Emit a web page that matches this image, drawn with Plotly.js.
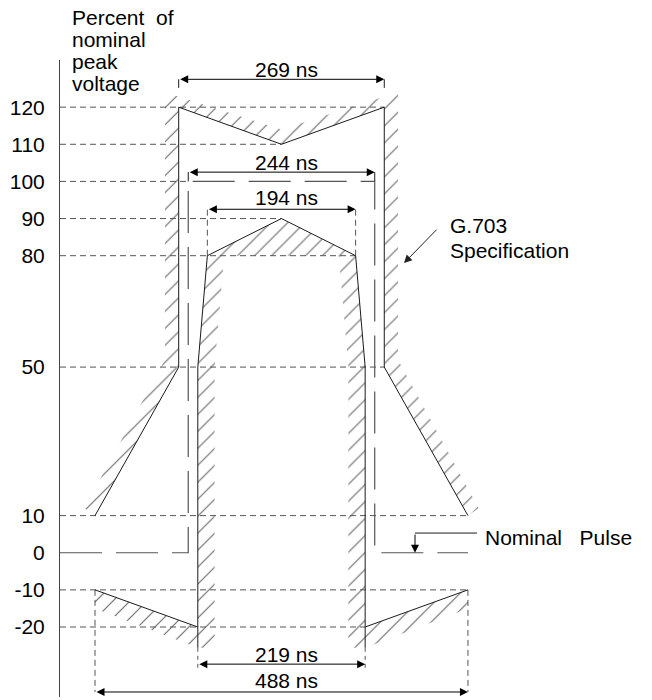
<!DOCTYPE html>
<html>
<head>
<meta charset="utf-8">
<script src="https://cdn.plot.ly/plotly-3.0.1.min.js"></script>
<style>html,body{margin:0;padding:0;background:#fff;}#chart{width:652px;height:700px;}</style>
</head>
<body>
<div id="chart"></div>
<script>
// ---- data (time in ns, amplitude in % of nominal peak) ----
const yTickVals = [120, 110, 100, 90, 80, 50, 10, 0, -10, -20];
const yTickText = ['120', '110', '100', '90', '80', '50', '10', '0', '-10', '-20'];

// G.703 upper (outer) mask
const upperMaskX = [-244, -134.5, -134.5, 0, 134.5, 134.5, 244];
const upperMaskY = [10, 50, 120, 110, 120, 50, 10];
// G.703 lower (inner) mask
const lowerMaskX = [-109.5, -109.5, -97, 0, 97, 109.5, 109.5];
const lowerMaskY = [-25.6, 50, 80, 90, 80, 50, -25.6];
// undershoot limits
const underLeftX = [-244, -109.5];
const underLeftY = [-10, -20];
const underRightX = [109.5, 244];
const underRightY = [-20, -10];
// nominal pulse
const pulseX = [-289.8, -122, -122, 122, 122, 244];
const pulseY = [0, 0, 100, 100, 0, 0];

// reference levels (dashed) : level and right end (ns)
const refLevels = [120, 110, 100, 90, 80, 50, 10, -10, -20];
const refEnds   = [134.5, 0, -122, 0, 97, 134.5, 244, 244, 109.5];

// dimensions
const dimWidths = [269, 244, 194, 219, 488];
const dimLabels = ['269 ns', '244 ns', '194 ns', '219 ns', '488 ns'];
const dimArrowY = [127.5, 102.5, 92.5, -30, -37.5];
const dimLabelY = [130.2, 105.2, 95.6, -27.4, -34.4];

// hatch bands
const upperHatchX = [-244, -134.5, -134.5, 0, 134.5, 134.5, 244, 258, 152.5, 152.5, 0, -152.5, -152.5, -258];
const upperHatchY = [10, 50, 120, 110, 120, 50, 10, 12, 52, 124, 114, 124, 52, 12];
const lowerHatchX = [-109.5, -109.5, -97, 0, 97, 109.5, 109.5, 87.5, 87.5, 75, -75, -87.5, -87.5];
const lowerHatchY = [-25.6, 50, 80, 90, 80, 50, -25.6, -25.6, 50, 80, 80, 50, -25.6];
const underLeftHatchX = [-244, -109.5, -109.5, -244];
const underLeftHatchY = [-10, -20, -25.6, -15];
const underRightHatchX = [109.5, 244, 244, 109.5];
const underRightHatchY = [-20, -10, -15, -25.6];

const X0 = -289.8;
const FONT = 'Liberation Sans, Arial, Helvetica, sans-serif';
const LINE = '#1a1a1a';
const GRID = '#555555';
const HATCH = '#606060';

const traces = [];
function hatch(x, y) {
  traces.push({x: x, y: y, type: 'scatter', mode: 'lines', fill: 'toself',
    fillcolor: 'rgba(0,0,0,0)', line: {width: 0, color: 'rgba(0,0,0,0)'},
    fillpattern: {shape: '/', size: 12, solidity: 0.085, fgcolor: HATCH, bgcolor: 'rgba(0,0,0,0)', fillmode: 'replace'},
    hoverinfo: 'skip', showlegend: false});
}
function line(x, y, color, dash, width) {
  traces.push({x: x, y: y, type: 'scatter', mode: 'lines',
    line: {color: color, width: width || 1, dash: dash || 'solid'},
    hoverinfo: 'skip', showlegend: false});
}

hatch(upperHatchX, upperHatchY);
hatch(lowerHatchX, lowerHatchY);
hatch(underLeftHatchX, underLeftHatchY);
hatch(underRightHatchX, underRightHatchY);

// dashed reference levels
refLevels.forEach((lv, i) => line([X0, refEnds[i]], [lv, lv], GRID, '6px,4px'));

// dimension extension lines
line([-97, -97], [80, dimArrowY[2]], GRID, '6px,4px');
line([97, 97], [80, dimArrowY[2]], GRID, '6px,4px');
line([-244, -244], [-10, dimArrowY[4]], GRID, '6px,4px');
line([244, 244], [-10, dimArrowY[4]], GRID, '6px,4px');
line([-109.5, -109.5], [-25.6, -31], GRID, '4px,4px');
line([109.5, 109.5], [-25.6, -31], GRID, '4px,4px');
line([-134.5, -134.5], [dimArrowY[0], 125.2], LINE);
line([134.5, 134.5], [dimArrowY[0], 125.2], LINE);
line([-122, -122], [dimArrowY[1], 100], LINE);
line([122, 122], [dimArrowY[1], 100], LINE);

// nominal pulse
line(pulseX, pulseY, '#555555', '42px,14px', 1.2);

// masks
line(upperMaskX, upperMaskY, LINE);
line(lowerMaskX, lowerMaskY, LINE);
line(underLeftX, underLeftY, LINE);
line(underRightX, underRightY, LINE);

// nominal pulse leader
line([174.7, 255.8], [5.3, 5.3], LINE);

const annotations = [];
dimWidths.forEach((w, i) => {
  annotations.push({x: w / 2, y: dimArrowY[i], ax: -w / 2, ay: dimArrowY[i], xref: 'x', yref: 'y', axref: 'x', ayref: 'y',
    text: '', showarrow: true, arrowhead: 2, arrowside: 'end+start', arrowsize: 1.6, arrowwidth: 1, arrowcolor: '#000'});
  annotations.push({x: 7, y: dimLabelY[i], xref: 'x', yref: 'y', text: dimLabels[i], showarrow: false,
    xanchor: 'center', yanchor: 'middle', font: {family: FONT, size: 21, color: '#000'}});
});
// leader arrows
annotations.push({x: 174.7, y: 0, ax: 174.7, ay: 5.3, xref: 'x', yref: 'y', axref: 'x', ayref: 'y',
  text: '', showarrow: true, arrowhead: 2, arrowsize: 1.6, arrowwidth: 1, arrowcolor: '#000'});
annotations.push({x: 160.3, y: 78.0, ax: 204.8, ay: 87.4, xref: 'x', yref: 'y', axref: 'x', ayref: 'y',
  text: '', showarrow: true, arrowhead: 2, arrowsize: 1.6, arrowwidth: 1, arrowcolor: '#222'});

// axis title lines (paper coordinates, above the plot area)
const titleLines = ['Percent\u00a0 of', 'nominal', 'peak', 'voltage'];
const titleY = [1.0667, 1.0322, 0.9976, 0.963];
titleLines.forEach((t, i) => annotations.push({x: 0.0169, y: titleY[i], xref: 'paper', yref: 'paper', text: t,
  showarrow: false, xanchor: 'left', yanchor: 'middle', font: {family: FONT, size: 21, color: '#000'}}));

const texts = [
  ['G.703', 217.8, 88.1],
  ['Specification', 217.8, 81.5],
  ['Nominal\u00a0\u00a0 Pulse', 263.6, 4.0]
];
texts.forEach(t => annotations.push({x: t[1], y: t[2], xref: 'x', yref: 'y', text: t[0], showarrow: false,
  xanchor: 'left', yanchor: 'middle', font: {family: FONT, size: 21, color: '#000'}}));

const layout = {
  width: 652, height: 700,
  margin: {l: 60, r: 0, t: 60, b: 3, pad: 0},
  paper_bgcolor: '#fff', plot_bgcolor: '#fff',
  showlegend: false,
  xaxis: {range: [X0, 484.8], visible: false, fixedrange: true},
  yaxis: {range: [-38.85, 132.7], showgrid: false, zeroline: false, showline: true,
    linecolor: '#444', linewidth: 1, tickvals: yTickVals, ticktext: yTickText, ticks: '',
    ticklabelstandoff: 10, tickfont: {family: FONT, size: 21, color: '#000'}, fixedrange: true},
  annotations: annotations
};

Plotly.newPlot('chart', traces, layout, {staticPlot: true, displayModeBar: false});
</script>
</body>
</html>
